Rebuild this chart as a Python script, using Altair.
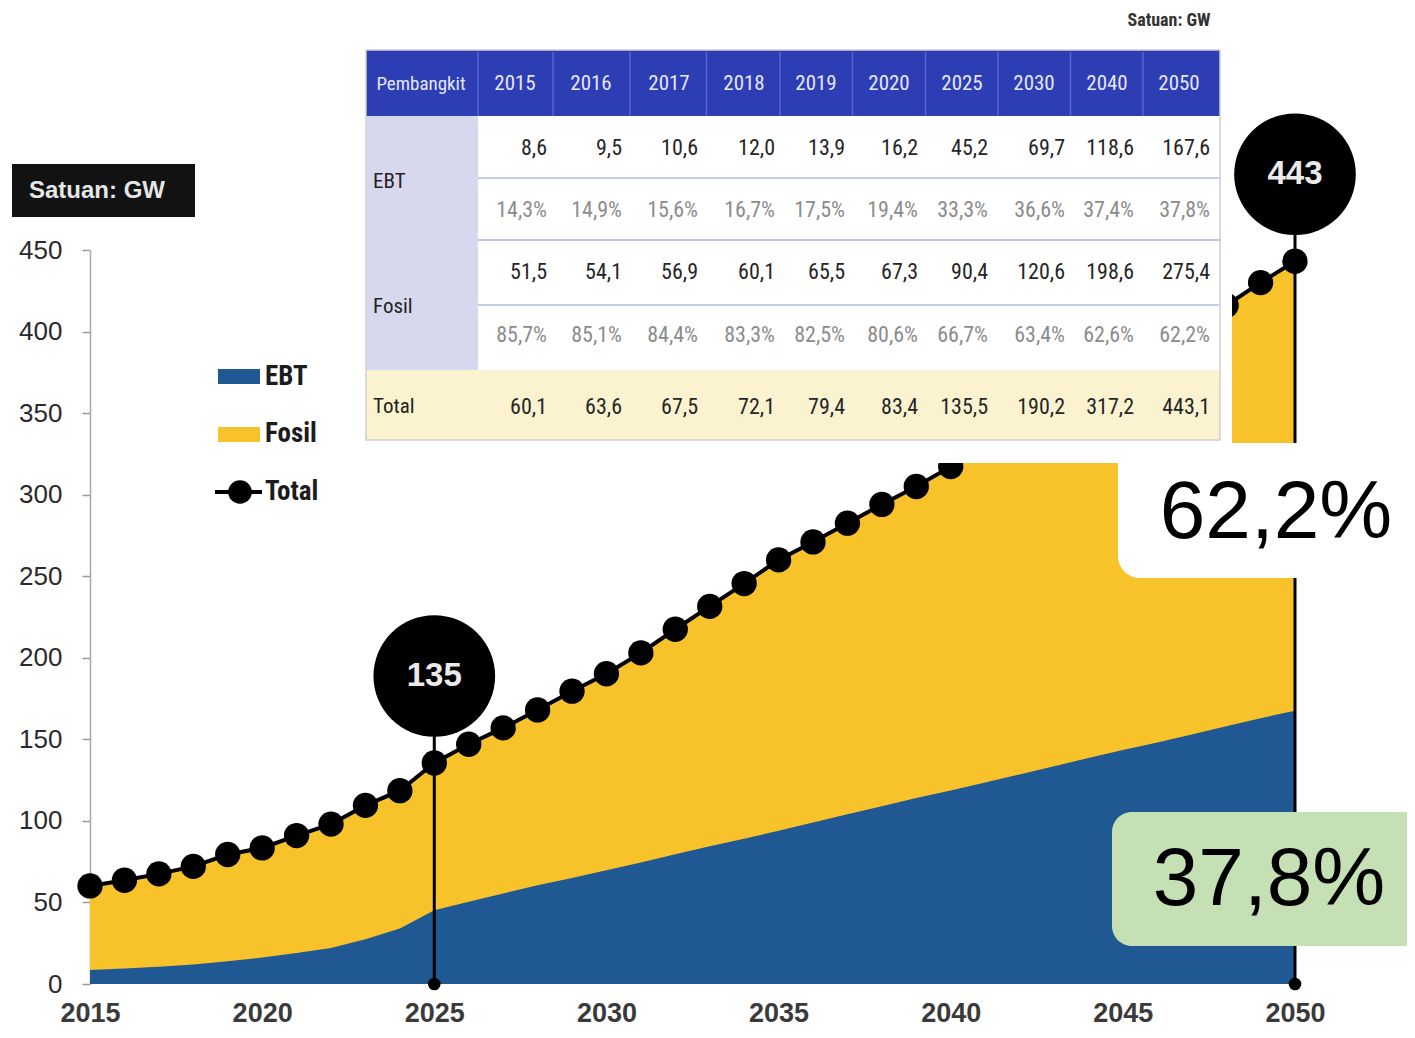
import altair as alt
import pandas as pd

# ---------------- data ----------------
years = list(range(2015, 2051))
ebt = [8.6, 9.5, 10.6, 12.0, 13.9, 16.2, 19.0, 22.0, 27.5, 34.0,
       45.2, 50.5, 55.5, 60.5, 65.0, 69.7, 74.5, 79.5, 84.5, 89.0,
       94.0, 99.0, 104.0, 109.0, 114.0, 118.6, 123.5, 128.5, 133.5, 138.5,
       143.5, 148.0, 153.0, 158.0, 163.0, 167.6]
total = [60.1, 63.6, 67.5, 72.1, 79.4, 83.4, 91.0, 98.0, 109.5, 118.5,
         135.5, 147.0, 157.0, 168.0, 179.5, 190.2, 203.0, 217.5, 231.5, 245.5,
         260.0, 271.0, 282.5, 294.0, 305.0, 317.2, 329.0, 341.0, 353.5, 366.0,
         378.5, 391.0, 404.0, 416.0, 430.0, 443.1]

callout_years = [2025, 2050]
callout_labels = ["135", "443"]

tbl_years = ["2015", "2016", "2017", "2018", "2019", "2020", "2025", "2030", "2040", "2050"]
tbl_ebt = ["8,6", "9,5", "10,6", "12,0", "13,9", "16,2", "45,2", "69,7", "118,6", "167,6"]
tbl_ebt_pct = ["14,3%", "14,9%", "15,6%", "16,7%", "17,5%", "19,4%", "33,3%", "36,6%", "37,4%", "37,8%"]
tbl_fosil = ["51,5", "54,1", "56,9", "60,1", "65,5", "67,3", "90,4", "120,6", "198,6", "275,4"]
tbl_fosil_pct = ["85,7%", "85,1%", "84,4%", "83,3%", "82,5%", "80,6%", "66,7%", "63,4%", "62,6%", "62,2%"]
tbl_total = ["60,1", "63,6", "67,5", "72,1", "79,4", "83,4", "135,5", "190,2", "317,2", "443,1"]
row_labels = ["EBT", "Fosil", "Total"]
legend_labels = ["EBT", "Fosil", "Total"]
share_fosil = "62,2%"
share_ebt = "37,8%"
unit_text = "Satuan: GW"

# ---------------- styles ----------------
YELLOW = "#F8C22A"
BLUE = "#1F5893"
HEADER = "#2D3DB3"
LAV = "#D7D8EE"
TOTROW = "#FBF3D0"
GREEN = "#C5E0B4"
SANS = "Liberation Sans, Arial, sans-serif"
NARROW = "Liberation Sans Narrow, Roboto Condensed, DejaVu Sans Condensed, sans-serif"
BUBBLE_OFF = -87

# ---------------- main chart ----------------
df = pd.DataFrame({"year": years, "ebt": ebt, "total": total})
df["fosil"] = df["total"] - df["ebt"]

cdf = pd.DataFrame({
    "year": callout_years,
    "total": [total[years.index(y)] for y in callout_years],
    "label": callout_labels,
    "base": [0, 0],
})

xs = alt.Scale(domain=[2015, 2050], nice=False, zero=False)
ys = alt.Scale(domain=[0, 450], nice=False)
xaxis = alt.Axis(values=list(range(2015, 2051, 5)), format="d", ticks=False, domain=False,
                 grid=False, labelFont=SANS, labelFontSize=27, labelFontWeight="bold",
                 labelColor="#3a3a3a", labelPadding=16, labelFlush=False, title=None)
yaxis = alt.Axis(values=list(range(0, 451, 50)), tickSize=8, tickColor="#9a9a9a", tickWidth=1.5,
                 domainColor="#a8a8a8", domainWidth=1.5, grid=False, labelFont=SANS,
                 labelFontSize=26, labelColor="#2a2a2a", labelPadding=20, labelFlush=False,
                 title=None)


def X():
    return alt.X("year:Q", scale=xs, axis=xaxis)


def Y(f):
    return alt.Y(f, scale=ys, axis=yaxis)


base = alt.Chart(df)
yellow = base.mark_area(color=YELLOW).encode(x=X(), y=Y("total:Q"))
blue = base.mark_area(color=BLUE).encode(x=X(), y=Y("ebt:Q"))
line = base.mark_line(color="black", strokeWidth=4).encode(x=X(), y=Y("total:Q"))
points = base.mark_circle(size=640, color="black", opacity=1).encode(x=X(), y=Y("total:Q"))

cbase = alt.Chart(cdf)
rules = cbase.mark_rule(color="black", strokeWidth=3, y2Offset=BUBBLE_OFF).encode(
    x=X(), y=Y("base:Q"), y2=alt.Y2("total:Q"))
dots = cbase.mark_circle(size=160, color="black", opacity=1).encode(x=X(), y=Y("base:Q"))
bubbles = cbase.mark_circle(size=14800, color="black", opacity=1, yOffset=BUBBLE_OFF).encode(
    x=X(), y=Y("total:Q"))
btext = cbase.mark_text(yOffset=BUBBLE_OFF, font=SANS, fontSize=33, fontWeight="bold",
                        color="#eaeaea", baseline="middle", align="center").encode(
    x=X(), y=Y("total:Q"), text="label:N")

main = alt.layer(yellow, blue, rules, line, points, dots, bubbles, btext)

# ---------------- overlay (page-pixel coordinates for annotations) ----------------
oxs = alt.Scale(domain=[0, 1415], range=[-90, 1325], nice=False, zero=False)
oys = alt.Scale(domain=[0, 1038], range=[-250, 788], nice=False, zero=False)


def OX():
    return alt.X("x:Q", scale=oxs, axis=None)


def OY():
    return alt.Y("y:Q", scale=oys, axis=None)


def rects(rows, **kw):
    return alt.Chart(pd.DataFrame(rows)).mark_rect(**kw).encode(
        x=OX(), x2=alt.X2("x2"), y=OY(), y2=alt.Y2("y2"),
        color=alt.Color("fill:N", scale=None))


def rules_o(rows, **kw):
    return alt.Chart(pd.DataFrame(rows)).mark_rule(**kw).encode(
        x=OX(), x2=alt.X2("x2"), y=OY(), y2=alt.Y2("y2"),
        color=alt.Color("c:N", scale=None))


def texts(rows, **kw):
    return alt.Chart(pd.DataFrame(rows)).mark_text(baseline="middle", **kw).encode(
        x=OX(), y=OY(), text="t:N", color=alt.Color("c:N", scale=None),
        size=alt.Size("s:Q", scale=None))


# table layout
T_L, T_R, C0_R = 366, 1220, 478
row_edges = [50, 116, 178, 240, 305, 370, 440]
col_centers = [515, 591, 669, 744, 816, 889, 962, 1034, 1107, 1179]
val_right = [547, 622, 698, 775, 845, 918, 988, 1065, 1134, 1210]
seps = [C0_R] + [(a + b) / 2 for a, b in zip(col_centers[:-1], col_centers[1:])]

cover = rects([{"x": 355, "x2": 1232, "y": 40, "y2": 463, "fill": "white"}])
tbl_bg = rects([
    {"x": T_L, "x2": T_R, "y": row_edges[0], "y2": row_edges[1], "fill": HEADER},
    {"x": T_L, "x2": C0_R, "y": row_edges[1], "y2": row_edges[5], "fill": LAV},
    {"x": T_L, "x2": T_R, "y": row_edges[5], "y2": row_edges[6], "fill": TOTROW},
])
tbl_border = alt.Chart(pd.DataFrame([{"x": T_L, "x2": T_R, "y": row_edges[0], "y2": row_edges[6]}])
                       ).mark_rect(fillOpacity=0, stroke="#cfcfcf", strokeWidth=1.5).encode(
    x=OX(), x2=alt.X2("x2"), y=OY(), y2=alt.Y2("y2"))
hdr_lines = rules_o([{"x": s, "x2": s, "y": row_edges[0] + 2, "y2": row_edges[1], "c": "#5565cc"}
                     for s in seps], strokeWidth=1.5)
row_lines = rules_o([
    {"x": C0_R, "x2": T_R, "y": row_edges[2], "y2": row_edges[2], "c": "#c9cbea"},
    {"x": C0_R, "x2": T_R, "y": row_edges[3], "y2": row_edges[3], "c": "#c0c3e6"},
    {"x": C0_R, "x2": T_R, "y": row_edges[4], "y2": row_edges[4], "c": "#c9cbea"},
], strokeWidth=2)

hdr_rows = [{"x": 421, "y": 84, "t": "Pembangkit", "c": "#e4e7fb", "s": 19}]
hdr_rows += [{"x": cx, "y": 84, "t": yr, "c": "#e4e7fb", "s": 21}
             for cx, yr in zip(col_centers, tbl_years)]
hdr_text = texts(hdr_rows, align="center", font=NARROW)

val_rows = []
for series, yc, col in [(tbl_ebt, 148, "#262626"), (tbl_ebt_pct, 210, "#8c8c8c"),
                        (tbl_fosil, 272, "#262626"), (tbl_fosil_pct, 335, "#8c8c8c"),
                        (tbl_total, 407, "#262626")]:
    for xr, v in zip(val_right, series):
        val_rows.append({"x": xr, "y": yc, "t": v, "c": col, "s": 22})
val_text = texts(val_rows, align="right", font=NARROW)

lab_rows = [{"x": 373, "y": yc, "t": t, "c": "#222222", "s": 21}
            for t, yc in zip(row_labels, [182, 307, 407])]
lab_text = texts(lab_rows, align="left", font=NARROW)

unit_top = texts([{"x": 1169, "y": 21, "t": unit_text, "c": "#333333", "s": 18}],
                 align="center", font=NARROW, fontWeight="bold")

# unit box
unit_box = rects([{"x": 12, "x2": 195, "y": 164, "y2": 217, "fill": "#121212"}])
unit_txt = texts([{"x": 29, "y": 191, "t": unit_text, "c": "#e6e6e6", "s": 24}],
                 align="left", font=SANS, fontWeight="bold")

# legend
leg_sw = rects([
    {"x": 218, "x2": 260, "y": 369, "y2": 384, "fill": BLUE},
    {"x": 218, "x2": 260, "y": 427, "y2": 442, "fill": YELLOW},
])
leg_line = rules_o([{"x": 215, "x2": 262, "y": 492, "y2": 492, "c": "black"}], strokeWidth=4)
leg_dot = alt.Chart(pd.DataFrame([{"x": 240, "y": 492}])).mark_circle(
    size=560, color="black", opacity=1).encode(x=OX(), y=OY())
leg_txt = texts([{"x": 265, "y": yc, "t": t, "c": "#1c1c1c", "s": 27}
                 for t, yc in zip(legend_labels, [377, 434, 492])],
                align="left", font=NARROW, fontWeight="bold")

# share boxes
white_box = rects([{"x": 1118, "x2": 1425, "y": 443, "y2": 578, "fill": "white"}],
                  cornerRadiusBottomLeft=22)
green_box = rects([{"x": 1112, "x2": 1425, "y": 812, "y2": 946, "fill": GREEN}],
                  cornerRadiusTopLeft=20, cornerRadiusBottomLeft=20)
share_txt = texts([
    {"x": 1276, "y": 513, "t": share_fosil, "c": "black", "s": 82},
    {"x": 1269, "y": 880, "t": share_ebt, "c": "black", "s": 82},
], align="center", font=SANS)

overlay = alt.layer(cover, tbl_bg, tbl_border, hdr_lines, row_lines, hdr_text, val_text,
                    lab_text, unit_top, unit_box, unit_txt, leg_sw, leg_line, leg_dot,
                    leg_txt, white_box, green_box, share_txt)

chart = alt.layer(main, overlay).resolve_scale(x="independent", y="independent").properties(
    width=1205, height=734,
    padding={"left": 82, "top": 242, "right": 112, "bottom": 46},
    autosize=alt.AutoSizeParams(type="none"),
    background="white",
).configure_view(stroke=None)

chart.save("out.html", embed_options={"renderer": "svg", "actions": False})
